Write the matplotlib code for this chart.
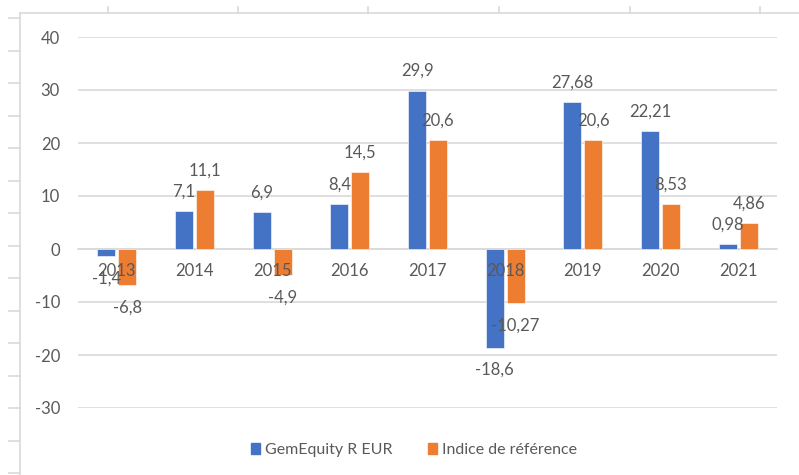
import matplotlib
matplotlib.use('Agg')
import matplotlib.pyplot as plt
from matplotlib.lines import Line2D
from matplotlib.patches import Patch
import numpy as np

plt.rcParams['font.family'] = ['Lato', 'DejaVu Sans']
plt.rcParams['axes.unicode_minus'] = False

years = ['2013', '2014', '2015', '2016', '2017', '2018', '2019', '2020', '2021']
fund = [-1.4, 7.1, 6.9, 8.4, 29.9, -18.6, 27.68, 22.21, 0.98]
index_ref = [-6.8, 11.1, -4.9, 14.5, 20.6, -10.27, 20.6, 8.53, 4.86]
series_names = ['GemEquity R EUR', 'Indice de référence']

blue = '#4472C4'
orange = '#ED7D31'
txt = '#595959'
grid = '#d9d9d9'

W, H = 799, 475
fig = plt.figure(figsize=(W / 100, H / 100), dpi=100)
fig.patch.set_facecolor('white')

# spreadsheet cell lines peeking around the chart
fig.add_artist(Line2D([20 / W, 20 / W], [0, 1 - 13 / H], color=grid, lw=1.2))
fig.add_artist(Line2D([20 / W, 1], [1 - 13 / H, 1 - 13 / H], color=grid, lw=1.2))
for yy in np.arange(18, 476, 32.5):
    fig.add_artist(Line2D([9 / W, 20 / W], [1 - yy / H, 1 - yy / H], color=grid, lw=1.2))
for xx in [108, 238, 368, 499, 630, 760]:
    fig.add_artist(Line2D([xx / W, xx / W], [1 - 7 / H, 1 - 13 / H], color=grid, lw=1.2))

ax = fig.add_axes([78 / W, 1 - 408 / H, (777 - 78) / W, (408 - 37) / H])
x = np.arange(len(years))
w = 0.23
off = 0.135
b1 = ax.bar(x - off, fund, w, color=blue, edgecolor='white', linewidth=0.4, zorder=2)
b2 = ax.bar(x + off, index_ref, w, color=orange, edgecolor='white', linewidth=0.4, zorder=2)

def fmt(v):
    return ('%g' % v).replace('.', ',')

for bars, vals in [(b1, fund), (b2, index_ref)]:
    for r, v in zip(bars, vals):
        cx = r.get_x() + r.get_width() / 2
        dy = 14 if v >= 0 else -16
        ax.annotate(fmt(v), (cx, v), xytext=(0, dy), textcoords='offset points',
                    ha='center', va='center', fontsize=12, color=txt, zorder=5)

ax.set_xlim(-0.5, len(years) - 0.5)
ax.set_ylim(-30, 40)
ax.set_yticks(range(-30, 41, 10))
ax.set_xticks(x)
ax.set_xticklabels(years)
ax.yaxis.grid(True, color=grid, lw=1.2)
ax.set_axisbelow(True)
ax.yaxis.set_zorder(0.5)
ax.xaxis.set_zorder(4)  # year labels drawn over the bars, like Excel
for s in ['top', 'right', 'left']:
    ax.spines[s].set_visible(False)
ax.spines['bottom'].set_position(('data', 0))
ax.spines['bottom'].set_color(grid)
ax.spines['bottom'].set_linewidth(1.2)
ax.spines['bottom'].set_zorder(1)
ax.tick_params(axis='x', length=0, pad=10, labelsize=12, labelcolor=txt)
ax.tick_params(axis='y', length=0, pad=13, labelsize=12, labelcolor=txt)

handles = [Patch(color=blue), Patch(color=orange)]
fig.legend(handles, series_names, loc='center', bbox_to_anchor=(414 / W, 1 - 450 / H),
           ncol=2, frameon=False, fontsize=11.5, labelcolor=txt,
           handlelength=0.6, handleheight=0.75, handletextpad=0.3, columnspacing=2.2)

fig.savefig('out.png', dpi=100, facecolor='white')
